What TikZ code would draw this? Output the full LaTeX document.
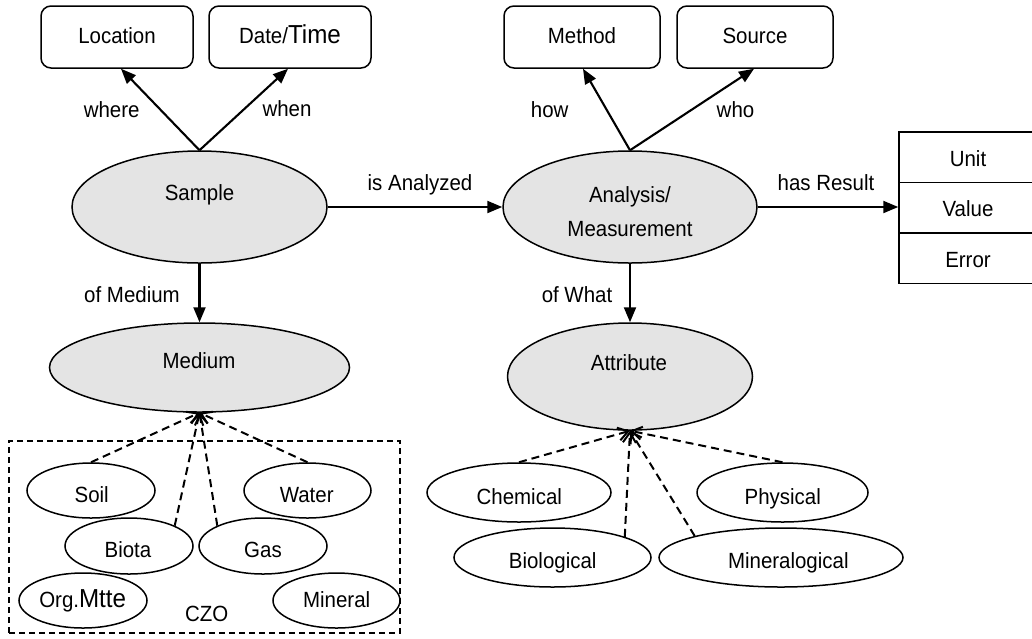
\documentclass[tikz,border=0pt]{standalone}
\usepackage{fontspec}
\setmainfont{Liberation Sans}[FakeStretch=0.93]
\usetikzlibrary{shapes.geometric,arrows.meta}
\definecolor{ovalfill}{HTML}{E4E4E4}
\newcommand\largerpart[1]{{\fontsize{26pt}{30pt}\selectfont #1}}
\begin{document}
\begin{tikzpicture}[x=1pt,y=-1pt,
  every node/.style={font=\fontsize{22pt}{26pt}\selectfont, inner sep=0pt},
  txt/.style={anchor=base},
  tag/.style={draw, line width=1.5pt, rounded corners=10pt, minimum height=62pt,
              text height=12.6pt, text depth=0pt},
  oval/.style={ellipse, draw, line width=1.5pt, fill=ovalfill},
  kind/.style={ellipse, draw, line width=1.5pt, fill=white},
  cell/.style={draw, line width=1.5pt, minimum width=138pt, minimum height=50.5pt,
               text height=18.4pt, text depth=0pt},
  link/.style={line width=2.1pt, -{Triangle[length=15pt,width=12pt]}},
  isa/.style={line width=2pt, dash pattern=on 8pt off 5pt,
              -{Straight Barb[length=10pt,width=13pt]}}
]
\useasboundingbox (0,0) rectangle (1032,638);

% top boxes
\node[tag, minimum width=152pt] (location) at (117,37) {Location};
\node[tag, minimum width=162pt] (datetime) at (290,37) {Date/\largerpart{Time}};
\node[tag, minimum width=156pt] (method) at (582,37) {Method};
\node[tag, minimum width=156pt] (source) at (755,37) {Source};

% main classes
\node[oval, minimum width=255pt, minimum height=112pt] (sample) at (199.5,207) {};
\node[txt] (t-sample) at (199.5,200.7) {Sample};
\node[oval, minimum width=254pt, minimum height=112pt] (analysis) at (630,207) {};
\node[txt] (t-analysis1) at (630,202.7) {Analysis/};
\node[txt] (t-analysis2) at (630,236) {Measurement};
\node[oval, minimum width=300pt, minimum height=89pt] (medium) at (199.5,367.5) {};
\node[txt] (t-medium) at (199,368) {Medium};
\node[oval, minimum width=245pt, minimum height=107pt] (attribute) at (630,376.5) {};
\node[txt] (t-attribute) at (629,370.7) {Attribute};

% result table
\node[cell] (unit) at (968,157.25) {Unit};
\node[cell] (value) at (968,207.75) {Value};
\node[cell] (error) at (968,258.25) {Error};

% CZO media group
\node[draw, line width=1.3pt, dash pattern=on 6pt off 4pt,
      minimum width=391pt, minimum height=192pt] (czo) at (204.5,537) {};
\node[txt] (t-czo) at (206.7,621.7) {CZO};

\node[kind, minimum width=128pt, minimum height=55pt] (soil) at (91,490.5) {};
\node[txt] (t-soil) at (91.7,502.7) {Soil};
\node[kind, minimum width=127pt, minimum height=55pt] (water) at (307.5,490.5) {};
\node[txt] (t-water) at (306.7,502.7) {Water};
\node[kind, minimum width=128pt, minimum height=56pt] (biota) at (129,546) {};
\node[txt] (t-biota) at (128,557.3) {Biota};
\node[kind, minimum width=128pt, minimum height=56pt] (gas) at (263,546) {};
\node[txt] (t-gas) at (263,557.3) {Gas};
\node[kind, minimum width=128pt, minimum height=55pt] (orgmatter) at (83,600.5) {};
\node[txt] (t-orgmatter) at (82.7,607.3) {Org.\largerpart{Mtte}};
\node[kind, minimum width=127pt, minimum height=55pt] (mineral) at (336.5,600.5) {};
\node[txt] (t-mineral) at (336.7,607.3) {Mineral};

% attribute kinds
\node[kind, minimum width=184pt, minimum height=59pt] (chemical) at (519,492.5) {};
\node[txt] (t-chemical) at (519.3,504) {Chemical};
\node[kind, minimum width=171pt, minimum height=59pt] (physical) at (782.5,492.5) {};
\node[txt] (t-physical) at (782.7,504) {Physical};
\node[kind, minimum width=197pt, minimum height=59pt] (biological) at (552.5,557.5) {};
\node[txt] (t-biological) at (552.7,568.7) {Biological};
\node[kind, minimum width=244pt, minimum height=59pt] (mineralogical) at (781,557.5) {};
\node[txt] (t-mineralogical) at (788.3,568.7) {Mineralogical};

% relations
\draw[link] (sample.north) -- ([xshift=4pt]location.south);
\draw[link] (sample.north) -- ([xshift=-2pt]datetime.south);
\draw[link] (analysis.north) -- ([xshift=1pt]method.south);
\draw[link] (analysis.north) -- ([xshift=-1pt]source.south);
\draw[link] (sample.east) -- (analysis.west);
\draw[link] (analysis.east) -- (analysis.east -| value.west);
\draw[link] (sample.south) -- (medium.north);
\draw[link] (analysis.south) -- (attribute.north);

\node[txt] (l-where) at (111.7,117) {where};
\node[txt] (l-when) at (287,116) {when};
\node[txt] (l-how) at (549.7,117) {how};
\node[txt] (l-who) at (735.5,117) {who};
\node[txt] (l-analyzed) at (420,190) {is Analyzed};
\node[txt] (l-result) at (826,190) {has Result};
\node[txt] (l-medium) at (132,302.7) {of Medium};
\node[txt] (l-what) at (577,302.7) {of What};

% kind-of links
\draw[isa] (soil.north) -- (medium.south);
\draw[isa] (water.north) -- (medium.south);
\draw[isa] (biota.24) -- (medium.south);
\draw[isa] (gas.156) -- (medium.south);
\draw[isa] (chemical.north) -- (attribute.south);
\draw[isa] (physical.north) -- (attribute.south);
\draw[isa] (biological.16) -- (attribute.south);
\draw[isa] (mineralogical.166) -- (attribute.south);
\end{tikzpicture}
\end{document}
